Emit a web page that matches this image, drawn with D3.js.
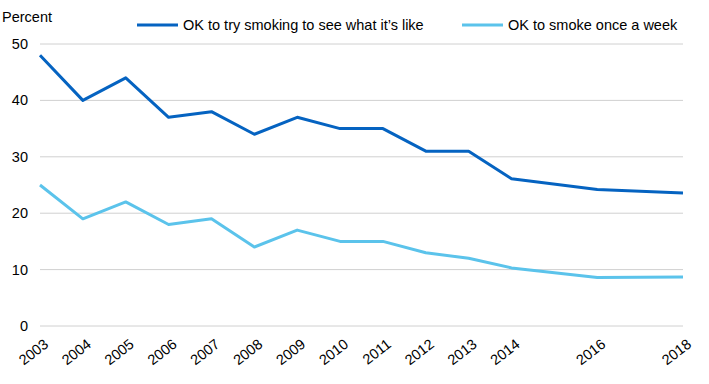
<!DOCTYPE html>
<html><head><meta charset="utf-8">
<script src="https://cdn.jsdelivr.net/npm/d3@7"></script>
<style>body{margin:0;background:#fff}svg{display:block;font-family:"Liberation Sans",Arial,sans-serif}</style>
</head><body><svg id="c" width="709" height="384"></svg>
<script>
const years = [2003,2004,2005,2006,2007,2008,2009,2010,2011,2012,2013,2014,2016,2018];
const tryIt = [48,40,44,37,38,34,37,35,35,31,31,26.1,24.2,23.6];
const onceWeek = [25,19,22,18,19,14,17,15,15,13,12,10.3,8.6,8.7];
const yTicks = [0,10,20,30,40,50];
const seriesNames = ["OK to try smoking to see what it\u2019s like","OK to smoke once a week"];
const colors = ["#0563C1","#5BC3EB"];

const svg = d3.select("#c");
const x = d3.scaleLinear().domain([2003,2018]).range([40,683]);
const y = d3.scaleLinear().domain([0,50]).range([326,44]);

svg.append("g").selectAll("line").data(yTicks).join("line")
  .attr("x1",40).attr("x2",683).attr("y1",d=>y(d)).attr("y2",d=>y(d))
  .attr("stroke","#d0d0d0").attr("stroke-width",1);

svg.append("g").selectAll("text").data(yTicks).join("text")
  .attr("x",28).attr("y",d=>y(d)+5).attr("text-anchor","end")
  .attr("font-size",14.5).attr("fill","#000").text(d=>d);

svg.append("text").attr("x",2).attr("y",22).attr("font-size",14.5).text("Percent");

svg.append("g").selectAll("text").data(years).join("text")
  .attr("text-anchor","end").attr("font-size",14.5)
  .attr("transform",d=>`translate(${x(d)+3},${338}) rotate(-38)`)
  .attr("dy","0.7em").text(d=>d);

const line = d3.line().x((d,i)=>x(years[i])).y(d=>y(d));
[tryIt,onceWeek].forEach((s,k)=>{
  svg.append("path").datum(s).attr("d",line).attr("fill","none")
    .attr("stroke",colors[k]).attr("stroke-width",3).attr("stroke-linejoin","round");
});

const lg = [{x:137},{x:462}];
lg.forEach((l,k)=>{
  svg.append("line").attr("x1",l.x).attr("x2",l.x+41).attr("y1",25).attr("y2",25)
    .attr("stroke",colors[k]).attr("stroke-width",3);
  svg.append("text").attr("x",l.x+46).attr("y",30).attr("font-size",14.5).text(seriesNames[k]);
});
</script></body></html>
